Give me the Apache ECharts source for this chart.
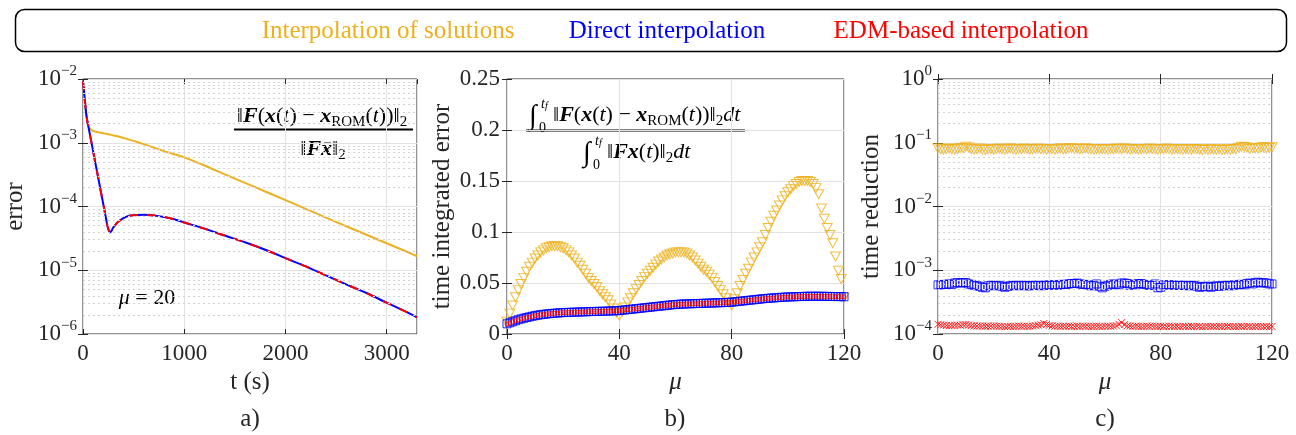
<!DOCTYPE html>
<html>
<head>
<meta charset="utf-8">
<script src="https://cdn.jsdelivr.net/npm/echarts@6/dist/echarts.min.js"></script>
<style>
  html, body { margin: 0; background: #fff; }
  #chart { width: 1296px; height: 435px; }
</style>
</head>
<body>
<div id="chart"></div>
<script>
const FONT = 'Liberation Serif'
const AX = '#262626'
const ORANGE = '#EDB120'
const BLUE = '#0000FF'
const RED = '#FF0000'

// ---- panel a) error vs time, mu = 20
const tA = [0, 10, 20, 30, 40, 50, 60, 80, 100, 120, 140, 160, 180, 200, 220, 240, 255, 265, 280, 300,
  350, 400, 450, 500, 600, 700, 800, 900, 1000, 1200, 1400, 1600, 1800, 2000, 2200, 2400, 2600, 2800, 3000, 3200, 3300]
const errSolA = [9.2e-3, 6.4e-3, 4.3e-3, 3.0e-3, 2.3e-3, 1.95e-3, 1.75e-3, 1.6e-3, 1.53e-3, 1.5e-3, 1.47e-3, 1.45e-3,
  1.43e-3, 1.41e-3, 1.39e-3, 1.37e-3, 1.355e-3, 1.345e-3, 1.33e-3, 1.30e-3, 1.25e-3, 1.19e-3, 1.13e-3, 1.07e-3,
  9.5e-4, 8.4e-4, 7.4e-4, 6.6e-4, 5.9e-4, 4.4e-4, 3.2e-4, 2.35e-4, 1.72e-4, 1.26e-4, 9.2e-5, 6.7e-5, 4.9e-5,
  3.6e-5, 2.65e-5, 1.95e-5, 1.66e-5]
const errDirectA = [9.2e-3, 6.4e-3, 4.3e-3, 3.0e-3, 2.3e-3, 1.9e-3, 1.58e-3, 1.08e-3, 7.4e-4, 5.0e-4, 3.45e-4, 2.35e-4,
  1.6e-4, 1.1e-4, 7.5e-5, 5.1e-5, 4.2e-5, 3.9e-5, 4.1e-5, 4.7e-5, 5.8e-5, 6.6e-5, 7.1e-5, 7.3e-5,
  7.4e-5, 7.25e-5, 6.85e-5, 6.3e-5, 5.6e-5, 4.5e-5, 3.5e-5, 2.75e-5, 2.1e-5, 1.55e-5, 1.15e-5, 8.3e-6, 6.0e-6,
  4.4e-6, 3.1e-6, 2.2e-6, 1.82e-6]
const errEdmA = [9.2e-3, 6.4e-3, 4.3e-3, 3.0e-3, 2.3e-3, 1.9e-3, 1.58e-3, 1.08e-3, 7.4e-4, 5.0e-4, 3.45e-4, 2.35e-4,
  1.6e-4, 1.1e-4, 7.5e-5, 5.1e-5, 4.2e-5, 3.9e-5, 4.1e-5, 4.7e-5, 5.8e-5, 6.6e-5, 7.1e-5, 7.3e-5,
  7.4e-5, 7.25e-5, 6.85e-5, 6.3e-5, 5.6e-5, 4.5e-5, 3.5e-5, 2.75e-5, 2.1e-5, 1.55e-5, 1.15e-5, 8.3e-6, 6.0e-6,
  4.4e-6, 3.1e-6, 2.2e-6, 1.82e-6]

// ---- panels b) and c): one value per mu = 0..120
const mu = Array.from({ length: 121 }, (_, i) => i)

const solB = [
  .012, .020, .028, .036, .043, .049, .055, .061, .066, .070,
  .074, .077, .080, .082, .084, .085, .086, .086, .086, .085,
  .084, .082, .080, .077, .074, .070, .067, .063, .059, .055,
  .052, .049, .046, .042, .039, .036, .033, .029, .025, .021,
  .018, .022, .026, .031, .035, .040, .044, .048, .052, .056,
  .059, .062, .065, .068, .071, .073, .075, .077, .078, .079,
  .080, .080, .080, .080, .079, .077, .075, .072, .069, .066,
  .063, .061, .058, .055, .051, .047, .043, .039, .035, .031,
  .028, .034, .040, .047, .053, .059, .064, .070, .075, .080,
  .085, .090, .097, .104, .110, .116, .121, .126, .131, .135,
  .139, .142, .145, .147, .149, .150, .150, .150, .149, .147,
  .143, .137, .123, .113, .104, .097, .089, .076, .062, .054, .036]
const directB = [
  .0100, .0110, .0120, .0130, .0140, .0148, .0155, .0162, .0168, .0174,
  .0180, .0185, .0189, .0193, .0196, .0199, .0202, .0204, .0206, .0208,
  .0210, .0211, .0212, .0213, .0214, .0215, .0216, .0217, .0218, .0219,
  .0220, .0221, .0222, .0222, .0223, .0224, .0225, .0226, .0227, .0228,
  .0230, .0233, .0236, .0239, .0242, .0245, .0248, .0251, .0254, .0257,
  .0260, .0263, .0266, .0269, .0272, .0275, .0278, .0281, .0284, .0287,
  .0289, .0291, .0293, .0294, .0295, .0296, .0297, .0298, .0299, .0300,
  .0301, .0302, .0303, .0304, .0305, .0306, .0307, .0308, .0309, .0310,
  .0312, .0315, .0318, .0321, .0324, .0327, .0330, .0333, .0336, .0339,
  .0342, .0345, .0348, .0350, .0352, .0354, .0356, .0358, .0360, .0362,
  .0363, .0364, .0365, .0366, .0367, .0368, .0369, .0370, .0370, .0370,
  .0370, .0370, .0370, .0369, .0369, .0368, .0368, .0367, .0367, .0366, .0365]
const edmB = [
  .0098, .0108, .0119, .0129, .0139, .0147, .0154, .0161, .0167, .0173,
  .0179, .0184, .0188, .0192, .0195, .0198, .0201, .0203, .0205, .0207,
  .0209, .0210, .0211, .0212, .0213, .0214, .0215, .0216, .0217, .0218,
  .0219, .0220, .0221, .0221, .0222, .0223, .0224, .0225, .0226, .0227,
  .0229, .0232, .0235, .0238, .0241, .0244, .0247, .0250, .0253, .0256,
  .0259, .0262, .0265, .0268, .0271, .0274, .0277, .0280, .0283, .0286,
  .0288, .0290, .0292, .0293, .0294, .0295, .0296, .0297, .0298, .0299,
  .0300, .0301, .0302, .0303, .0304, .0305, .0306, .0307, .0308, .0309,
  .0311, .0314, .0317, .0320, .0323, .0326, .0329, .0332, .0335, .0338,
  .0341, .0344, .0347, .0349, .0351, .0353, .0355, .0357, .0359, .0361,
  .0362, .0363, .0364, .0365, .0366, .0367, .0368, .0369, .0369, .0369,
  .0369, .0369, .0369, .0368, .0368, .0367, .0367, .0366, .0366, .0365, .0364]

const solC = [
  .082, .079, .078, .080, .081, .079, .078, .080, .083, .082,
  .087, .084, .080, .078, .079, .081, .078, .077, .079, .080,
  .078, .080, .081, .079, .078, .080, .082, .079, .078, .080,
  .079, .081, .080, .078, .079, .080, .081, .079, .080, .078,
  .080, .079, .078, .080, .082, .079, .080, .081, .083, .080,
  .081, .079, .080, .082, .080, .079, .078, .080, .079, .080,
  .079, .078, .080, .079, .081, .080, .079, .082, .080, .078,
  .079, .080, .078, .079, .080, .079, .081, .080, .079, .078,
  .080, .079, .081, .080, .078, .079, .080, .079, .078, .080,
  .079, .078, .080, .079, .078, .077, .079, .078, .079, .078,
  .078, .079, .077, .078, .079, .078, .080, .079, .083, .087,
  .086, .084, .080, .083, .082, .081, .084, .086, .082, .083, .085]
const directC = [
  5.9e-4, 5.9e-4, 6.0e-4, 6.0e-4, 6.1e-4, 6.0e-4, 6.3e-4, 6.4e-4, 6.3e-4, 6.4e-4,
  6.4e-4, 6.1e-4, 6.0e-4, 5.8e-4, 5.7e-4, 5.6e-4, 5.4e-4, 5.3e-4, 5.7e-4, 5.8e-4,
  5.8e-4, 5.7e-4, 5.8e-4, 5.6e-4, 5.4e-4, 5.6e-4, 5.7e-4, 5.8e-4, 5.8e-4, 5.7e-4,
  5.8e-4, 5.8e-4, 5.7e-4, 5.7e-4, 5.8e-4, 5.8e-4, 5.8e-4, 5.7e-4, 5.8e-4, 5.9e-4,
  5.8e-4, 5.9e-4, 5.9e-4, 5.8e-4, 6.0e-4, 6.0e-4, 6.0e-4, 6.1e-4, 6.2e-4, 6.2e-4,
  6.3e-4, 6.1e-4, 6.0e-4, 6.0e-4, 5.9e-4, 5.7e-4, 5.8e-4, 6.1e-4, 5.6e-4, 5.3e-4,
  5.6e-4, 5.8e-4, 6.0e-4, 6.1e-4, 6.0e-4, 5.9e-4, 6.3e-4, 6.3e-4, 6.2e-4, 5.8e-4,
  6.0e-4, 5.9e-4, 6.2e-4, 6.2e-4, 6.0e-4, 5.9e-4, 5.8e-4, 5.8e-4, 6.1e-4, 5.3e-4,
  5.4e-4, 5.9e-4, 5.9e-4, 5.9e-4, 5.9e-4, 5.8e-4, 5.8e-4, 5.8e-4, 5.8e-4, 5.8e-4,
  5.7e-4, 5.8e-4, 5.8e-4, 5.6e-4, 5.4e-4, 5.5e-4, 5.6e-4, 5.6e-4, 5.4e-4, 5.6e-4,
  5.7e-4, 5.6e-4, 5.7e-4, 5.8e-4, 5.8e-4, 5.7e-4, 5.9e-4, 5.8e-4, 6.0e-4, 6.0e-4,
  5.9e-4, 6.2e-4, 6.3e-4, 6.1e-4, 6.4e-4, 6.5e-4, 6.3e-4, 6.4e-4, 6.3e-4, 6.1e-4, 6.1e-4]
const edmC = [
  1.42e-4, 1.40e-4, 1.38e-4, 1.36e-4, 1.35e-4, 1.36e-4, 1.37e-4, 1.38e-4, 1.37e-4, 1.40e-4,
  1.41e-4, 1.38e-4, 1.35e-4, 1.34e-4, 1.33e-4, 1.34e-4, 1.33e-4, 1.32e-4, 1.33e-4, 1.33e-4,
  1.34e-4, 1.33e-4, 1.32e-4, 1.31e-4, 1.30e-4, 1.32e-4, 1.31e-4, 1.31e-4, 1.32e-4, 1.33e-4,
  1.32e-4, 1.33e-4, 1.32e-4, 1.32e-4, 1.33e-4, 1.35e-4, 1.38e-4, 1.40e-4, 1.46e-4, 1.41e-4,
  1.37e-4, 1.34e-4, 1.32e-4, 1.33e-4, 1.32e-4, 1.33e-4, 1.32e-4, 1.33e-4, 1.31e-4, 1.32e-4,
  1.33e-4, 1.32e-4, 1.33e-4, 1.32e-4, 1.32e-4, 1.31e-4, 1.32e-4, 1.33e-4, 1.32e-4, 1.31e-4,
  1.32e-4, 1.33e-4, 1.32e-4, 1.33e-4, 1.36e-4, 1.42e-4, 1.51e-4, 1.40e-4, 1.34e-4, 1.33e-4,
  1.32e-4, 1.33e-4, 1.32e-4, 1.31e-4, 1.32e-4, 1.33e-4, 1.32e-4, 1.33e-4, 1.32e-4, 1.31e-4,
  1.32e-4, 1.31e-4, 1.32e-4, 1.33e-4, 1.32e-4, 1.31e-4, 1.32e-4, 1.31e-4, 1.32e-4, 1.31e-4,
  1.31e-4, 1.32e-4, 1.31e-4, 1.32e-4, 1.31e-4, 1.30e-4, 1.31e-4, 1.32e-4, 1.31e-4, 1.32e-4,
  1.31e-4, 1.32e-4, 1.31e-4, 1.32e-4, 1.31e-4, 1.32e-4, 1.31e-4, 1.30e-4, 1.31e-4, 1.32e-4,
  1.31e-4, 1.32e-4, 1.31e-4, 1.30e-4, 1.31e-4, 1.32e-4, 1.31e-4, 1.30e-4, 1.31e-4, 1.30e-4, 1.31e-4]

const legendNames = ['Interpolation of solutions', 'Direct interpolation', 'EDM-based interpolation']

// minor grid positions (log10 of 2..9 x 10^k) for the log panels
function minorExp(lo, hi) {
  const out = []
  for (let e = lo; e < hi; e++) for (let k = 2; k <= 9; k++) out.push(e + Math.log10(k))
  return out
}

const grids = [
  { left: 83, top: 79, width: 334, height: 255 },
  { left: 507, top: 79, width: 337, height: 255 },
  { left: 938, top: 79, width: 334, height: 255 },
].map(g => Object.assign(g, { show: true, borderColor: AX, borderWidth: 1, backgroundColor: 'transparent' }))

const nameStyle = { fontFamily: FONT, fontSize: 25, color: AX }
const labelStyle = { fontFamily: FONT, fontSize: 23, color: AX }
const tick = { show: true, inside: true, length: 5, lineStyle: { color: AX } }
const split = { show: true, lineStyle: { color: '#e2e2e2', width: 1 } }

const logLabel = {
  ...labelStyle,
  margin: 6,
  formatter: v => {
    const e = Math.round(Math.log10(v))
    return '{b|10}{s|' + (e < 0 ? '−' : '') + Math.abs(e) + '}'
  },
  rich: {
    b: { fontFamily: FONT, fontSize: 23, color: AX, lineHeight: 30 },
    s: { fontFamily: FONT, fontSize: 15, color: AX, verticalAlign: 'top', lineHeight: 16 },
  },
}

function xAx(gi, min, max, interval, name, italic) {
  return {
    type: 'value', gridIndex: gi, min, max, interval, position: 'bottom',
    name, nameLocation: 'middle', nameGap: 36,
    nameTextStyle: { ...nameStyle, fontStyle: italic ? 'italic' : 'normal' },
    axisLine: { show: false }, axisTick: tick, splitLine: split,
    axisLabel: { ...labelStyle, margin: 8, formatter: v => String(v),
      showMaxLabel: max % interval === 0 ? true : false },
  }
}
function xTop(gi, min, max, interval) {
  return {
    type: 'value', gridIndex: gi, min, max, interval, position: 'top',
    axisLine: { show: false }, axisTick: tick, splitLine: { show: false }, axisLabel: { show: false },
  }
}
function yAx(gi, opts, name, gap) {
  return Object.assign({
    gridIndex: gi, position: 'left', name, nameLocation: 'middle', nameGap: gap,
    nameTextStyle: nameStyle, axisLine: { show: false }, axisTick: tick, splitLine: split,
  }, opts)
}
function yRight(gi, opts) {
  return Object.assign({
    gridIndex: gi, position: 'right', axisLine: { show: false }, axisTick: tick,
    splitLine: { show: false }, axisLabel: { show: false },
  }, opts)
}
// hidden exponent-space axis that carries the dotted minor grid
function yExp(gi, min, max) {
  return { type: 'value', gridIndex: gi, min, max, show: false, splitLine: { show: false } }
}

const logA = { type: 'log', logBase: 10, min: 1e-6, max: 1e-2 }
const linB = { type: 'value', min: 0, max: 0.25, interval: 0.05 }
const logC = { type: 'log', logBase: 10, min: 1e-4, max: 1 }

const minorSeries = (xi, yi, vals) => ({
  type: 'line', xAxisIndex: xi, yAxisIndex: yi, symbol: 'none', z: 0, silent: true,
  lineStyle: { width: 0 }, data: [],
  markLine: {
    silent: true, symbol: 'none', label: { show: false }, animation: false,
    lineStyle: { type: [2, 3], color: '#d2d2d2', width: 1 },
    data: vals.map(v => ({ yAxis: v })),
  },
})

const hollow = color => ({ color: 'transparent', borderColor: color, borderWidth: 1 })

const series = [
  // a)
  minorSeries(0, 6, minorExp(-6, -2)),
  { name: legendNames[0], type: 'line', xAxisIndex: 0, yAxisIndex: 0, symbol: 'none', smooth: 0.2,
    lineStyle: { color: ORANGE, width: 2 }, data: tA.map((t, i) => [t, errSolA[i]]) },
  { name: legendNames[1], type: 'line', xAxisIndex: 0, yAxisIndex: 0, symbol: 'none', smooth: 0.2,
    lineStyle: { color: BLUE, width: 2 }, data: tA.map((t, i) => [t, errDirectA[i]]) },
  { name: legendNames[2], type: 'line', xAxisIndex: 0, yAxisIndex: 0, symbol: 'none', smooth: 0.2,
    lineStyle: { color: RED, width: 2, type: [9, 9] }, data: tA.map((t, i) => [t, errEdmA[i]]) },
  // b)
  { name: legendNames[0], type: 'scatter', xAxisIndex: 1, yAxisIndex: 1, symbol: 'triangle', symbolRotate: 180,
    symbolSize: [10, 9], itemStyle: { ...hollow(ORANGE), opacity: 0.85 }, data: mu.map((m, i) => [m, solB[i]]) },
  { name: legendNames[1], type: 'scatter', xAxisIndex: 1, yAxisIndex: 1, symbol: 'rect', symbolSize: 8,
    itemStyle: { ...hollow(BLUE), opacity: 0.85 }, data: mu.map((m, i) => [m, directB[i]]) },
  { name: legendNames[2], type: 'scatter', xAxisIndex: 1, yAxisIndex: 1, symbol: 'circle', symbolSize: 4,
    itemStyle: { ...hollow(RED), opacity: 0.85 }, data: mu.map((m, i) => [m, edmB[i]]) },
  // c)
  minorSeries(2, 7, minorExp(-4, 0)),
  { name: legendNames[0], type: 'scatter', xAxisIndex: 2, yAxisIndex: 2, symbol: 'triangle', symbolRotate: 180,
    symbolSize: [10, 9], itemStyle: { ...hollow(ORANGE), opacity: 0.85 }, data: mu.map((m, i) => [m, solC[i]]) },
  { name: legendNames[1], type: 'scatter', xAxisIndex: 2, yAxisIndex: 2, symbol: 'rect', symbolSize: 8,
    itemStyle: hollow(BLUE), data: mu.map((m, i) => [m, directC[i]]) },
  { name: legendNames[2], type: 'scatter', xAxisIndex: 2, yAxisIndex: 2, symbol: 'path://M0,0L10,10M10,0L0,10',
    symbolSize: 7, itemStyle: { ...hollow(RED), opacity: 0.85 }, data: mu.map((m, i) => [m, edmC[i]]) },
]

// math-ish annotation text
const fs = 22
const rich = {
  n: { fontFamily: FONT, fontSize: fs, fill: '#000', lineHeight: 28 },
  b: { fontFamily: FONT, fontSize: fs, fontWeight: 'bold', fontStyle: 'italic', fill: '#000', lineHeight: 28 },
  i: { fontFamily: FONT, fontSize: fs, fontStyle: 'italic', fill: '#000', lineHeight: 28 },
  s: { fontFamily: FONT, fontSize: 15, fill: '#000', verticalAlign: 'bottom', lineHeight: 16 },
  lim: { fontFamily: FONT, fontSize: 14, fontStyle: 'italic', fill: '#000' },
  ls: { fontFamily: FONT, fontSize: 10, fontStyle: 'italic', fill: '#000', verticalAlign: 'bottom', lineHeight: 10 },
}
function txt(x, y, text, align, extra) {
  return {
    type: 'text', x, y, silent: true,
    style: Object.assign({ text, rich, fontFamily: FONT, fontSize: fs, fill: '#000',
      align: align || 'center', verticalAlign: 'middle' }, extra || {}),
  }
}
function integral(x, y) {
  return [
    txt(x, y + 2, '∫', 'left', { fontSize: 28 }),
    txt(x + 12, y - 11, '{lim|t}{ls|f}', 'left'),
    txt(x + 10, y + 13, '0', 'left', { fontSize: 14 }),
  ]
}
const numA = '{n|‖}{b|F}{n|(}{b|x}{n|(}{i|t}{n|) − }{b|x}{s|ROM}{n|(}{i|t}{n|))‖}{s|2}'
const numB = '{n|‖}{b|F}{n|(}{b|x}{n|(}{i|t}{n|) − }{b|x}{s|ROM}{n|(}{i|t}{n|))‖}{s|2}{i|dt}'
const denB = '{n|‖}{b|Fx}{n|(}{i|t}{n|)‖}{s|2}{i|dt}'

const legendX = [388, 667, 961]
const legendColors = [ORANGE, BLUE, RED]

const graphic = [
  { type: 'rect', shape: { x: 15.5, y: 9.5, width: 1271, height: 42, r: 9 },
    style: { fill: '#fff', stroke: '#000', lineWidth: 1.5 }, silent: true },
  ...legendNames.map((n, i) => txt(legendX[i], 31, n, 'center', { fontSize: 25, fill: legendColors[i] })),
  // a) annotation
  txt(322, 116, numA),
  { type: 'line', shape: { x1: 234, y1: 129.5, x2: 413, y2: 129.5 }, style: { stroke: '#000', lineWidth: 2 }, silent: true },
  txt(323, 149, '{n|‖}{b|F}{b|x̄}{n|‖}{s|2}'),
  txt(147, 298, '{i|μ}{n| = 20}'),
  // b) annotation
  ...integral(529, 115),
  txt(553, 115, numB, 'left'),
  { type: 'line', shape: { x1: 526, y1: 130.5, x2: 745, y2: 130.5 }, style: { stroke: '#000', lineWidth: 2 }, silent: true },
  ...integral(583, 152),
  txt(607, 152, denB, 'left'),
  // captions
  txt(250, 419, 'a)', 'center', { fontSize: 25, fill: AX }),
  txt(675, 419, 'b)', 'center', { fontSize: 25, fill: AX }),
  txt(1105, 419, 'c)', 'center', { fontSize: 25, fill: AX }),
]

const option = {
  animation: false,
  backgroundColor: '#fff',
  grid: grids,
  xAxis: [
    xAx(0, 0, 3300, 1000, 't (s)', false),
    xAx(1, 0, 120, 40, 'μ', true),
    xAx(2, 0, 120, 40, 'μ', true),
    xTop(0, 0, 3300, 1000),
    xTop(1, 0, 120, 40),
    xTop(2, 0, 120, 40),
  ],
  yAxis: [
    yAx(0, { ...logA, axisLabel: logLabel }, 'error', 55),
    yAx(1, { ...linB, axisLabel: { ...labelStyle, margin: 7 } }, 'time integrated error', 52),
    yAx(2, { ...logC, axisLabel: logLabel }, 'time reduction', 54),
    yRight(0, logA),
    yRight(1, linB),
    yRight(2, logC),
    yExp(0, -6, -2),
    yExp(2, -4, 0),
  ],
  series,
  graphic,
}

const myChart = echarts.init(document.getElementById('chart'), null, { renderer: 'canvas' })
myChart.setOption(option)
</script>
</body>
</html>
